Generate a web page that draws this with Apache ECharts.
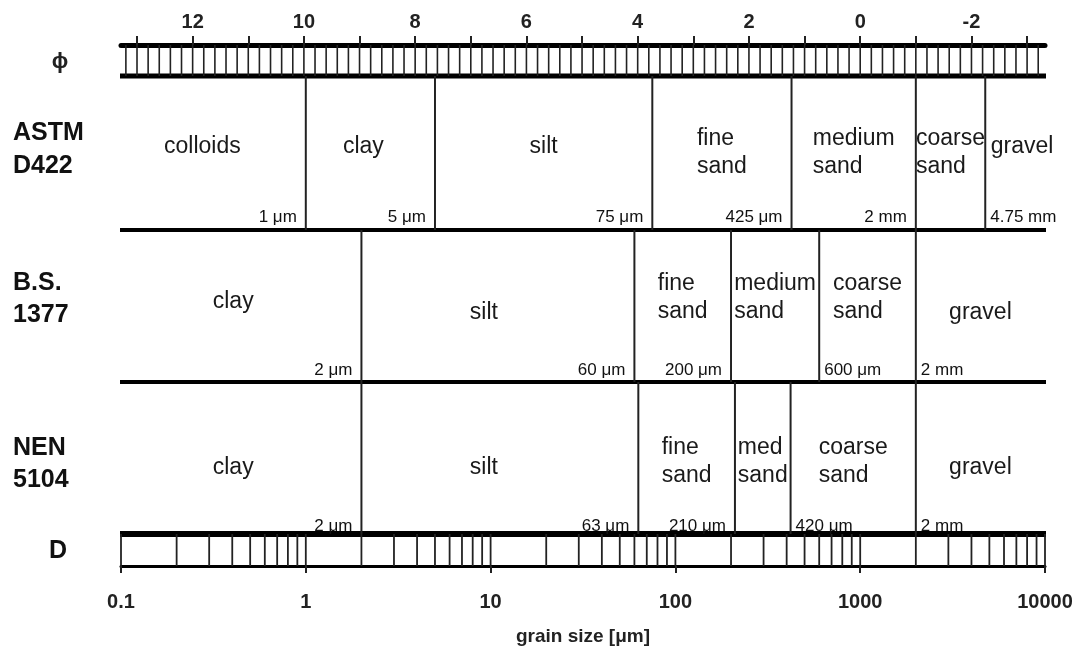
<!DOCTYPE html>
<html>
<head>
<meta charset="utf-8">
<script src="https://cdn.jsdelivr.net/npm/echarts@6/dist/echarts.min.js"></script>
<style>
  html, body { margin: 0; padding: 0; background: #fff; }
  #chart { width: 1077px; height: 657px; }
</style>
</head>
<body>
<div id="chart"></div>
<script>
// grain sizes in micrometre
var sizeMin = 0.1, sizeMax = 10000;
var sizeTickLabels = [0.1, 1, 10, 100, 1000, 10000];
var phiTickLabels = [12, 10, 8, 6, 4, 2, 0, -2];
var phiMajorTicks = [13, 12, 11, 10, 9, 8, 7, 6, 5, 4, 3, 2, 1, 0, -1, -2, -3];

var astmBounds = [1, 5, 75, 425, 2000, 4750];
var astmBoundLabels = ['1 μm', '5 μm', '75 μm', '425 μm', '2 mm', '4.75 mm'];
var astmClasses = ['colloids', 'clay', 'silt', 'fine\nsand', 'medium\nsand', 'coarse\nsand', 'gravel'];

var bsBounds = [2, 60, 200, 600, 2000];
var bsBoundLabels = ['2 μm', '60 μm', '200 μm', '600 μm', '2 mm'];
var bsClasses = ['clay', 'silt', 'fine\nsand', 'medium\nsand', 'coarse\nsand', 'gravel'];

var nenBounds = [2, 63, 210, 420, 2000];
var nenBoundLabels = ['2 μm', '63 μm', '210 μm', '420 μm', '2 mm'];
var nenClasses = ['clay', 'silt', 'fine\nsand', 'med\nsand', 'coarse\nsand', 'gravel'];

// phi scale = -log2(D in mm)
var phiLo = -Math.log2(sizeMax / 1000), phiHi = -Math.log2(sizeMin / 1000);

// ticks of the two scale bars
var phiMinor = [];
for (var p = Math.ceil(phiLo * 5); p <= Math.floor(phiHi * 5); p++) phiMinor.push(p / 5);
var dMinor = [];
for (var e = -1; e <= 3; e++) {
  for (var k = 1; k <= 9; k++) dMinor.push(Number((k * Math.pow(10, e)).toPrecision(3)));
}
dMinor.push(sizeMax);

var FONT = '"Liberation Sans", Arial, sans-serif';
var classFont = '23px ' + FONT;
var boundFont = '17px ' + FONT;

// layout in px below grid top (y axis runs 0..521 inverse)
var bands = [
  {top: 31, bottom: 185, singleY: 102, doubleY: 108, labelY: 172, sides: 'LLLLLR',
   bounds: astmBounds, labels: astmBoundLabels, classes: astmClasses, dx: [-11, -7, 0, 0, 0, 0, 7]},
  {top: 185, bottom: 337, singleY: 268, doubleY: 253, labelY: 325, sides: 'LLLRR',
   bounds: bsBounds, labels: bsBoundLabels, classes: bsClasses, dx: [-8, -14, 0, 0, 0, 0], dy: [-11, 0, 0, 0, 0, 0]},
  {top: 337, bottom: 489, singleY: 423, doubleY: 417, labelY: 481, sides: 'LLLRR',
   bounds: nenBounds, labels: nenBoundLabels, classes: nenClasses, dx: [-8, -16, 0, 0, 0, 0]}
];
var rules = [{y: 31, w: 5}, {y: 185, w: 4}, {y: 337, w: 4}, {y: 489, w: 6}];

var mctx = document.createElement('canvas').getContext('2d');
function textWidth(s, font) { mctx.font = font; return mctx.measureText(s).width; }

function tickSeries(values, axisIndex, y0, y1, width, color) {
  return {
    type: 'custom', xAxisIndex: axisIndex, yAxisIndex: 0, silent: true,
    data: values.map(function (v) { return [v, 0]; }),
    renderItem: function (params, api) {
      var a = api.coord([api.value(0), y0]);
      var b = api.coord([api.value(0), y1]);
      return {type: 'line', shape: {x1: a[0], y1: a[1], x2: b[0], y2: b[1]},
              style: {stroke: color, lineWidth: width}};
    }
  };
}

var series = [];
// horizontal rules
series.push({
  type: 'custom', xAxisIndex: 0, yAxisIndex: 0, silent: true,
  data: rules.map(function (r) { return [sizeMin, r.y, r.w]; }),
  renderItem: function (params, api) {
    var a = api.coord([sizeMin, api.value(1)]);
    var b = api.coord([sizeMax, api.value(1)]);
    return {type: 'line', shape: {x1: a[0] - 1, y1: a[1], x2: b[0] + 1, y2: b[1]},
            style: {stroke: '#000', lineWidth: api.value(2)}};
  }
});
series.push(tickSeries(phiMinor, 1, 0, 31, 1.6, '#222'));
series.push(tickSeries(dMinor, 0, 489, 521, 1.8, '#222'));

bands.forEach(function (band) {
  var edges = [sizeMin].concat(band.bounds, [sizeMax]);
  // boundaries with their labels
  series.push({
    type: 'custom', xAxisIndex: 0, yAxisIndex: 0, silent: true,
    data: band.bounds.map(function (v) { return [v, 0]; }),
    renderItem: function (params, api) {
      var i = params.dataIndex;
      var a = api.coord([api.value(0), band.top]);
      var b = api.coord([api.value(0), band.bottom]);
      var ly = api.coord([api.value(0), band.labelY])[1];
      var left = band.sides[i] === 'L';
      return {type: 'group', children: [
        {type: 'line', shape: {x1: a[0], y1: a[1], x2: b[0], y2: b[1]},
         style: {stroke: '#222', lineWidth: 2}},
        {type: 'text', style: {text: band.labels[i], x: left ? a[0] - 9 : a[0] + 5, y: ly,
          align: left ? 'right' : 'left', verticalAlign: 'middle', font: boundFont, fill: '#111'}}
      ]};
    }
  });
  // class names centred in each interval
  series.push({
    type: 'custom', xAxisIndex: 0, yAxisIndex: 0, silent: true,
    data: band.classes.map(function (c, i) { return [edges[i], edges[i + 1]]; }),
    renderItem: function (params, api) {
      var i = params.dataIndex;
      var lo = api.value(0), hi = api.value(1);
      var name = band.classes[i];
      var lines = name.split('\n');
      var y = (lines.length > 1 ? band.doubleY : band.singleY) + ((band.dy && band.dy[i]) || 0);
      var xc = api.coord([Math.sqrt(lo * hi), y]);
      var w = Math.max.apply(null, lines.map(function (l) { return textWidth(l, classFont); }));
      return {type: 'text', style: {text: name, x: xc[0] - w / 2 + ((band.dx && band.dx[i]) || 0), y: xc[1],
        align: 'left', verticalAlign: 'middle', font: classFont, lineHeight: 28, fill: '#1a1a1a'}};
    }
  });
});

var sideFont = 'bold 25px ' + FONT;
var chart = echarts.init(document.getElementById('chart'));
chart.setOption({
  animation: false,
  backgroundColor: '#fff',
  grid: {left: 121, right: 32, top: 45, bottom: 91},
  xAxis: [
    {
      type: 'log', logBase: 10, min: sizeMin, max: sizeMax, position: 'bottom',
      axisLine: {show: true, onZero: false, lineStyle: {color: '#000', width: 3}},
      axisTick: {show: true, length: 7, lineStyle: {color: '#222', width: 2}},
      axisLabel: {show: true, margin: 26, fontSize: 20, fontWeight: 'bold', fontFamily: FONT, color: '#222',
        customValues: sizeTickLabels,
        formatter: function (v) { return String(Number(v.toPrecision(3))); }},
      splitLine: {show: false}, minorTick: {show: false},
      name: 'grain size [μm]', nameLocation: 'middle', nameGap: 61,
      nameTextStyle: {fontSize: 19, fontWeight: 'bold', fontFamily: FONT, color: '#222'}
    },
    {
      type: 'value', min: phiLo, max: phiHi, inverse: true, position: 'top',
      axisLine: {show: true, onZero: false, lineStyle: {color: '#000', width: 5}},
      axisTick: {show: true, length: 9, customValues: phiMajorTicks, lineStyle: {color: '#222', width: 2}},
      axisLabel: {show: true, margin: 13, fontSize: 20, fontWeight: 'bold', fontFamily: FONT, color: '#222',
        customValues: phiTickLabels},
      splitLine: {show: false}
    }
  ],
  yAxis: {type: 'value', min: 0, max: 521, inverse: true, show: false},
  graphic: [
    {type: 'text', x: 60, y: 62, style: {text: 'ϕ', align: 'center', verticalAlign: 'middle', font: 'bold 22px ' + FONT, fill: '#222'}},
    {type: 'text', x: 13, y: 150, style: {text: 'ASTM\nD422', align: 'left', verticalAlign: 'middle', lineHeight: 33, font: sideFont, fill: '#111'}},
    {type: 'text', x: 13, y: 299, style: {text: 'B.S.\n1377', align: 'left', verticalAlign: 'middle', lineHeight: 32, font: sideFont, fill: '#111'}},
    {type: 'text', x: 13, y: 464, style: {text: 'NEN\n5104', align: 'left', verticalAlign: 'middle', lineHeight: 32, font: sideFont, fill: '#111'}},
    {type: 'text', x: 58, y: 551, style: {text: 'D', align: 'center', verticalAlign: 'middle', font: sideFont, fill: '#111'}}
  ],
  series: series
});
</script>
</body>
</html>
